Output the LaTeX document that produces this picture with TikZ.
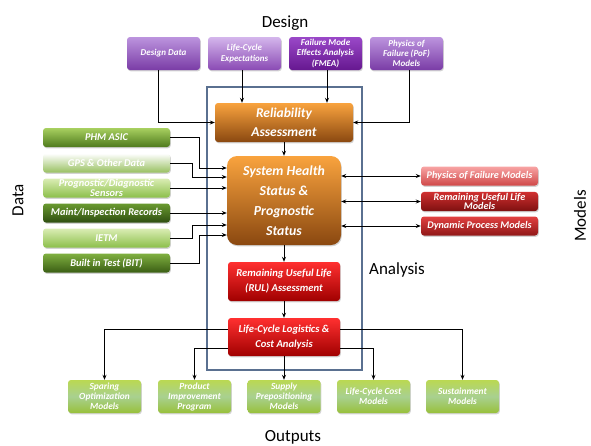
\documentclass[tikz,border=0pt]{standalone}
\usepackage{fontspec}
\setmainfont{Carlito}
\usetikzlibrary{arrows.meta,shadows}

% box colours
\definecolor{frameblue}{HTML}{5A7090}
\definecolor{purA}{HTML}{BC94DE}\definecolor{purB}{HTML}{7A3CA6}
\definecolor{purC}{HTML}{D4B6EC}\definecolor{purD}{HTML}{8A4AB4}
\definecolor{purE}{HTML}{9A48C8}\definecolor{purF}{HTML}{661890}
\definecolor{orA}{HTML}{F9A33E}\definecolor{orB}{HTML}{8A4810}
\definecolor{redA}{HTML}{FF3030}\definecolor{redB}{HTML}{A00000}
\definecolor{grA}{HTML}{A8D060}\definecolor{grB}{HTML}{4E7A1C}
\definecolor{grC}{HTML}{FFFFFF}\definecolor{grD}{HTML}{98C060}
\definecolor{grE}{HTML}{DAEDB4}\definecolor{grF}{HTML}{8CBF4A}
\definecolor{grG}{HTML}{6A9A30}\definecolor{grH}{HTML}{2E4E10}
\definecolor{grI}{HTML}{80B040}\definecolor{grJ}{HTML}{3A5E14}
\definecolor{pkA}{HTML}{F8A4A4}\definecolor{pkB}{HTML}{D04848}
\definecolor{rdC}{HTML}{D03030}\definecolor{rdD}{HTML}{7E1010}
\definecolor{rdE}{HTML}{E24040}\definecolor{rdF}{HTML}{901818}
\definecolor{limeA}{HTML}{BAD852}\definecolor{limeM}{HTML}{A8D090}\definecolor{limeB}{HTML}{98C03A}

\tikzset{
  blk/.style={draw=none, rounded corners=3pt, align=center, text=white, inner sep=1pt,
    drop shadow={opacity=0.35, shadow xshift=0.8pt, shadow yshift=-1.3pt}},
  shade2/.style 2 args={top color=#1, bottom color=#2},
  purbox/.style={blk, minimum width=73pt, minimum height=33pt,
    font={\fontsize{9}{10.3}\selectfont\bfseries\itshape}},
  databox/.style={blk, minimum width=127pt, minimum height=19pt,
    font={\fontsize{10.4}{8.5}\selectfont\bfseries\itshape}},
  modbox/.style={blk, minimum width=117pt, minimum height=19pt,
    font={\fontsize{10.2}{8.5}\selectfont\bfseries\itshape}},
  outbox/.style={blk, minimum width=73pt, minimum height=33pt,
    top color=limeA, bottom color=limeB, middle color=limeM,
    font={\fontsize{9.4}{10}\selectfont\bfseries\itshape}},
  redbox/.style={blk, minimum width=112pt, minimum height=39pt, shade2={redA}{redB},
    font={\fontsize{10.6}{15}\selectfont\bfseries\itshape}},
  title/.style={font={\fontsize{17}{17}\selectfont}, inner sep=0pt},
  arr/.style={line width=0.8pt, -{Stealth[length=5pt,width=4pt]}},
  biarr/.style={line width=0.8pt, {Stealth[length=5pt,width=4pt]}-{Stealth[length=5pt,width=4pt]}},
  frame/.style={draw=frameblue, line width=1.2pt, minimum width=155pt, minimum height=283pt, inner sep=0pt}
}

\begin{document}
\begin{tikzpicture}[x=1pt,y=-1pt]
\useasboundingbox (0,0) rectangle (591,445);

% analysis frame
\node[frame] (an) at (284.5,228.5) {};

% titles
\node[title] (tDesign) at (285,23) {Design};
\node[title] (tOut) at (293,437) {Outputs};
\node[title] (tAn) at (397,270) {Analysis};
\node[title, rotate=90] (tData) at (18,200) {Data};
\node[title, rotate=90] (tMod) at (580,216) {Models};

% design inputs
\node[purbox, shade2={purA}{purB}] (dd) at (163.5,53.5) {Design Data};
\node[purbox, shade2={purC}{purD}] (lce) at (244.5,53.5) {Life-Cycle\\Expectations};
\node[purbox, shade2={purE}{purF}] (fmea) at (325.5,53.5) {Failure Mode\\Effects Analysis\\(FMEA)};
\node[purbox, shade2={purA}{purB}] (pof) at (406.5,53.5) {Physics of\\Failure (PoF)\\Models};

% analysis chain
\node[blk, shade2={orA}{orB}, minimum width=138pt, minimum height=39pt,
  font={\fontsize{13.5}{19}\selectfont\bfseries\itshape}] (rel) at (284,122.5) {Reliability\\Assessment};
\node[blk, shade2={orA}{orB}, rounded corners=10pt, minimum width=114pt, minimum height=89pt,
  font={\fontsize{13.8}{20}\selectfont\bfseries\itshape}] (sh) at (284,200.5) {System Health\\Status \&\\Prognostic\\Status};
\node[redbox] (rul) at (284,281.5) {Remaining Useful Life\\(RUL) Assessment};
\node[redbox, minimum height=38pt] (lcl) at (284,337) {Life-Cycle Logistics \&\\Cost Analysis};

% data sources
\node[databox, shade2={grA}{grB}] (phm) at (106.5,137.5) {PHM ASIC};
\node[databox, shade2={grC}{grD}] (gps) at (106.5,163) {GPS \& Other Data};
\node[databox, shade2={grE}{grF}] (pds) at (106.5,188) {Prognostic/Diagnostic\\Sensors};
\node[databox, shade2={grG}{grH}] (mir) at (106.5,213) {Maint/Inspection Records};
\node[databox, shade2={grE}{grF}] (ietm) at (106.5,238) {IETM};
\node[databox, shade2={grI}{grJ}] (bit) at (106.5,263) {Built in Test (BIT)};

% models
\node[modbox, shade2={pkA}{pkB}] (pfm) at (479.5,176) {Physics of Failure Models};
\node[modbox, shade2={rdC}{rdD}] (rulm) at (479.5,201.5) {Remaining Useful Life\\Models};
\node[modbox, shade2={rdE}{rdF}] (dpm) at (479.5,226) {Dynamic Process Models};

% outputs
\node[outbox] (spar) at (104.5,396.5) {Sparing\\Optimization\\Models};
\node[outbox] (prod) at (194.5,396.5) {Product\\Improvement\\Program};
\node[outbox] (sup) at (284,396.5) {Supply\\Prepositioning\\Models};
\node[outbox] (lcc) at (373.5,396.5) {Life-Cycle Cost\\Models};
\node[outbox] (sus) at (462.5,396.5) {Sustainment\\Models};

% design connectors
\draw[arr] (dd.south -| 158,0) |- (rel.west);
\draw[arr] (lce.south -| 242,0) -- (rel.north -| 242,0);
\draw[arr] (fmea.south -| 327,0) -- (rel.north -| 327,0);
\draw[arr] (pof.south -| 409,0) |- (rel.east);

% analysis chain connectors
\draw[arr] (rel.south) -- (sh.north);
\draw[arr] (sh.south) -- (rul.north);
\draw[arr] (rul.south) -- (lcl.north);

% data connectors
\draw[arr] (phm.east) -| (199,168) -- (sh.west |- 0,168);
\draw[arr] (gps.east) -| (192,177) -- (sh.west |- 0,177);
\draw[arr] (pds.east) -- (sh.west |- pds.east);
\draw[arr] (mir.east) -- (sh.west |- mir.east);
\draw[arr] (ietm.east) -| (192,225) -- (sh.west |- 0,225);
\draw[arr] (bit.east) -| (199,235) -- (sh.west |- 0,235);

% model connectors
\draw[biarr] (sh.east |- pfm.west) -- (pfm.west);
\draw[biarr] (sh.east |- rulm.west) -- (rulm.west);
\draw[biarr] (sh.east |- dpm.west) -- (dpm.west);

% output connectors
\draw[arr] (lcl.west |- 0,329) -| (spar.north);
\draw[arr] (lcl.west |- 0,348) -| (prod.north);
\draw[arr] (lcl.south) -- (sup.north);
\draw[arr] (lcl.east |- 0,348) -| (lcc.north);
\draw[arr] (lcl.east |- 0,329) -| (sus.north);
\end{tikzpicture}
\end{document}
